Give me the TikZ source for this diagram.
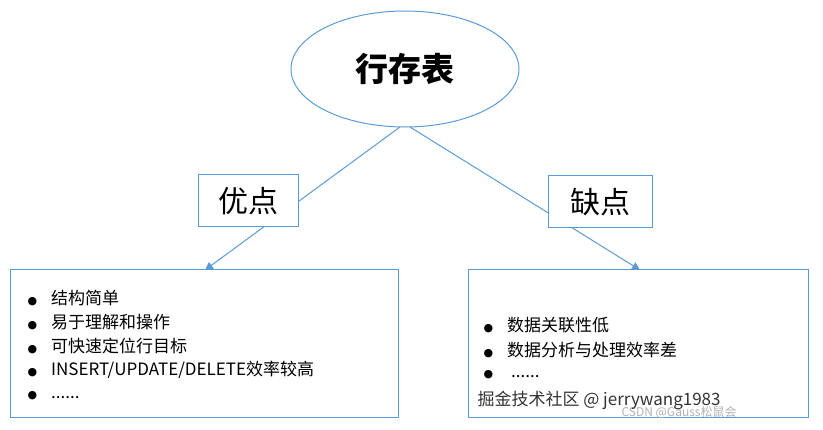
\documentclass[tikz,border=0pt]{standalone}
\usepackage{fontspec}
\setmainfont{Liberation Sans}
\newfontfamily\cjk{Noto Sans CJK SC}
\newfontfamily\dv{DejaVu Sans}
\usetikzlibrary{shapes.geometric,arrows.meta}
\definecolor{bl}{HTML}{5B9BD5}
\newcommand\bul{{\dv\fontsize{11}{11}\selectfont ●}}
\begin{document}
\begin{tikzpicture}[x=1pt,y=-1pt,
  box/.style={draw=bl,line width=1pt,fill=white,inner sep=0pt},
  con/.style={draw=bl,line width=1pt,-{Triangle[length=8pt,width=8pt]}},
  item/.style={anchor=west,font=\cjk\fontsize{17}{19}\selectfont}]
\useasboundingbox (0,0) rectangle (823,430);
\node[ellipse,draw=bl,line width=1pt,minimum width=228pt,minimum height=116pt,font=\cjk\bfseries\fontsize{33}{36}\selectfont] (top) at (405,69) {行存表};
\coordinate (la) at (205,270);
\coordinate (ra) at (640,270);
\draw[con] (400,127) -- (la);
\draw[con] (410,127) -- (ra);
\node[box,minimum width=100pt,minimum height=52pt,font=\cjk\fontsize{30}{34}\selectfont] (pro) at (248,201) {优点};
\node[box,minimum width=104pt,minimum height=52pt,font=\cjk\fontsize{30}{34}\selectfont] (con) at (600,202) {缺点};
\node[box,minimum width=388pt,minimum height=148pt] (lb) at (204,344) {};
\node[box,minimum width=340pt,minimum height=148pt] (rb) at (638,344) {};
\node[item] (l1) at (24,298) {\bul\hspace{14pt}结构简单};
\node[item] (l2) at (24,322) {\bul\hspace{14pt}易于理解和操作};
\node[item] (l3) at (24,346) {\bul\hspace{14pt}可快速定位行目标};
\node[item] (l4) at (24,370) {\bul\hspace{14pt}INSERT/UPDATE/DELETE效率较高};
\node[item] (l5) at (24,396) {\bul\hspace{14pt}{......}};
\node[item] (r1) at (480,325) {\bul\hspace{14pt}数据关联性低};
\node[item] (r2) at (480,350) {\bul\hspace{14pt}数据分析与处理效率差};
\node[item] (r3) at (480,375) {\bul\hspace{18pt}{......}};
\node[anchor=west,font=\cjk\fontsize{12}{14}\selectfont,text=gray!60] (w2) at (618,412) {CSDN @Gauss松鼠会};
\node[anchor=west,font=\cjk\fontsize{17}{19}\selectfont,text=black!80] (w1) at (474,400) {掘金技术社区 @ jerrywang1983};
\end{tikzpicture}
\end{document}
